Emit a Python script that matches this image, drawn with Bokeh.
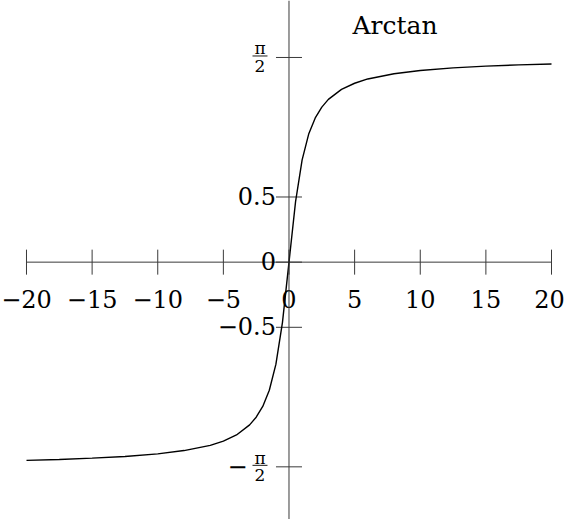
import math
from bokeh.plotting import figure
from bokeh.models import ColumnDataSource, Span, Label
from bokeh.core.properties import value
from bokeh.embed import file_html
from bokeh.resources import INLINE

# ---- data ----
title_text = "Arctan"
curve_x = [-20, -17.5, -15, -12.5, -10, -8, -6, -5, -4, -3, -2.5, -2, -1.5, -1, -0.5,
           0, 0.5, 1, 1.5, 2, 2.5, 3, 4, 5, 6, 8, 10, 12.5, 15, 17.5, 20]
curve_y = [-1.521, -1.514, -1.504, -1.491, -1.471, -1.446, -1.406, -1.373, -1.326, -1.249,
           -1.190, -1.107, -0.983, -0.785, -0.464, 0.0, 0.464, 0.785, 0.983, 1.107,
           1.190, 1.249, 1.326, 1.373, 1.406, 1.446, 1.471, 1.491, 1.504, 1.514, 1.521]

x_ticks = [-20, -15, -10, -5, 0, 5, 10, 15, 20]
x_tick_labels = ["−20", "−15", "−10", "−5", "0", "5", "10", "15", "20"]
y_num_ticks = [-0.5, 0, 0.5]
y_num_labels = ["−0.5", "0", "0.5"]
y_frac_ticks = [1.5708, -1.5708]
y_frac_signs = ["", "−"]
y_frac_num = ["π", "π"]
y_frac_den = ["2", "2"]

# ---- layout / style ----
W, H = 564, 519
X0, X1 = -21.98, 20.99
Y0, Y1 = -1.975, 2.008
FONT = "DejaVu Serif"
AXIS_COLOR = "#3a3a3a"
LABEL_SIZE = "24px"

p = figure(width=W, height=H, x_range=(X0, X1), y_range=(Y0, Y1),
           output_backend="svg", toolbar_location=None,
           x_axis_type=None, y_axis_type=None,
           min_border=0, min_border_left=0, min_border_right=0,
           min_border_top=0, min_border_bottom=0)
p.outline_line_color = None
p.xgrid.visible = False
p.ygrid.visible = False
p.background_fill_color = "white"
p.border_fill_color = "white"

px_x = W / (X1 - X0)
px_y = H / (Y1 - Y0)

# axes lines
p.add_layout(Span(location=0, dimension="height", line_color=AXIS_COLOR, line_width=1))
p.segment(x0=[x_ticks[0]], x1=[x_ticks[-1]], y0=[0], y1=[0],
          line_color=AXIS_COLOR, line_width=1)

# tick marks
p.scatter(x_ticks, [0] * len(x_ticks), marker="dash", size=25, angle=math.pi / 2,
          line_color=AXIS_COLOR, line_width=1)
all_y_ticks = y_num_ticks + y_frac_ticks
p.scatter([0] * len(all_y_ticks), all_y_ticks, marker="dash", size=26,
          line_color=AXIS_COLOR, line_width=1)

# curve
p.line(curve_x, curve_y, line_color="black", line_width=1.4)

# x tick labels (last one nudged so it stays inside the canvas)
x_shift = [0] * (len(x_ticks) - 1) + [-2]
xsrc = ColumnDataSource(dict(x=x_ticks, y=[0] * len(x_ticks), t=x_tick_labels, dx=x_shift))
p.text(x="x", y="y", text="t", source=xsrc, text_align="center",
       text_baseline="middle", x_offset="dx", y_offset=37, text_color="black",
       text_font=value(FONT), text_font_size=LABEL_SIZE)

# y numeric tick labels
ysrc = ColumnDataSource(dict(x=[0] * len(y_num_ticks), y=y_num_ticks, t=y_num_labels))
p.text(x="x", y="y", text="t", source=ysrc, text_align="right",
       text_baseline="middle", x_offset=-13, y_offset=-1, text_color="black",
       text_font=value(FONT), text_font_size=LABEL_SIZE)

# y fraction tick labels (pi / 2)
fsrc = ColumnDataSource(dict(x=[0] * len(y_frac_ticks), y=y_frac_ticks,
                             s=y_frac_signs, n=y_frac_num, d=y_frac_den))
p.text(x="x", y="y", text="n", source=fsrc, text_align="center",
       text_baseline="middle", x_offset=-29, y_offset=-9, text_color="black",
       text_font=value(FONT), text_font_size="17px")
p.text(x="x", y="y", text="d", source=fsrc, text_align="center",
       text_baseline="middle", x_offset=-29, y_offset=8.5, text_color="black",
       text_font=value(FONT), text_font_size="17px")
p.text(x="x", y="y", text="s", source=fsrc, text_align="center",
       text_baseline="middle", x_offset=-51.5, y_offset=-1, text_color="black",
       text_font=value(FONT), text_font_size=LABEL_SIZE)
p.scatter([-29 / px_x] * len(y_frac_ticks), [t + 1.5 / px_y for t in y_frac_ticks],
          marker="dash", size=15, line_color="black", line_width=0.9)

# title
p.add_layout(Label(x=8.08, y=1.814, text=title_text, text_align="center",
                   text_baseline="middle", text_font=FONT, text_font_size="25px",
                   text_color="black"))

open("out.html", "w").write(file_html(p, INLINE))
